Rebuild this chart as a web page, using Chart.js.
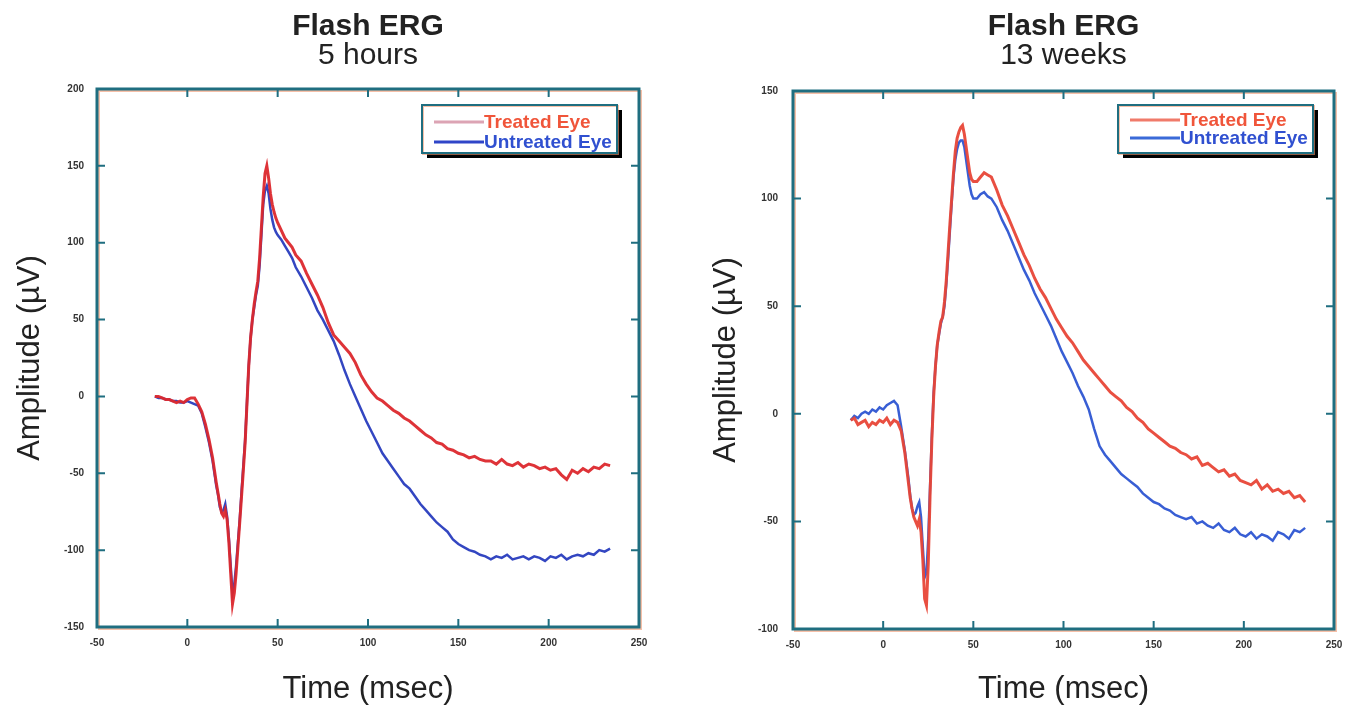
<!DOCTYPE html>
<html>
<head>
<meta charset="utf-8">
<script src="https://cdn.jsdelivr.net/npm/chart.js@4.4.1/dist/chart.umd.min.js"></script>
<style>
  html, body { margin: 0; padding: 0; background: #fff; }
  #wrap { position: relative; width: 1355px; height: 711px; overflow: hidden; }
  canvas { position: absolute; top: 0; }
  #erg5h { left: 0; }
  #erg13w { left: 677px; }
</style>
</head>
<body>
<div id="wrap">
  <canvas id="erg5h" width="677" height="711"></canvas>
  <canvas id="erg13w" width="678" height="711"></canvas>
</div>
<script>
// time axis shared by both recordings (msec)
const timeMs = [
  -18, -16, -14, -12, -10, -8, -6, -4, -2, 0, 2, 4, 6, 8, 10, 12, 14,
  15, 16, 17, 18, 19, 20, 21, 22, 23, 24, 25, 26, 27, 28, 29, 30, 31, 32, 33, 34,
  35, 36, 37, 38, 39, 40, 41, 42, 43, 44, 45, 46, 47, 48, 49, 50,
  52, 54, 56, 58,
  60, 63, 66, 69, 72, 75, 78, 81, 84, 87, 90, 93, 96, 99, 102, 105, 108, 111, 114, 117,
  120, 123, 126, 129, 132, 135, 138, 141, 144, 147, 150, 153, 156, 159, 162, 165, 168, 171, 174, 177,
  180, 183, 186, 189, 192, 195, 198, 201, 204, 207, 210, 213, 216, 219, 222, 225, 228, 231, 234
];

// Flash ERG, 5 hours (uV)
const treated5h = [
  0, 0, -1, -2, -2, -3, -4, -3, -4, -2, -1, -1, -5, -10, -18, -28, -40,
  -48, -56, -63, -70, -76, -78, -74, -80, -95, -115, -135, -128, -115, -98, -82, -65, -48, -30, -5, 20,
  38, 50, 60, 68, 75, 90, 110, 130, 145, 150, 142, 132, 125, 120, 116, 113,
  108, 103, 100, 97,
  92, 88, 80, 73, 66, 58, 48, 40, 36, 32, 28, 22, 14, 8, 3, -1, -3, -6, -9, -11,
  -14, -16, -19, -22, -25, -27, -30, -31, -34, -35, -37, -38, -40, -39, -41, -42, -42, -44, -41, -44,
  -45, -43, -46, -44, -45, -47, -46, -48, -47, -51, -54, -48, -50, -47, -49, -46, -47, -44, -45
];
const untreated5h = [
  0, -1, -1, -2, -2, -3, -3, -4, -4, -3, -4, -5, -6, -11, -20, -30, -42,
  -50, -58, -64, -72, -75, -74, -70, -78, -92, -110, -128, -122, -110, -95, -80, -62, -45, -28, -4, 20,
  38, 50, 58, 66, 72, 85, 105, 125, 134, 137, 132, 122, 115, 110, 107, 105,
  102, 98, 94, 90,
  84, 78, 71, 64, 56, 50, 43, 36, 27, 17, 8, 0, -8, -16, -23, -30, -37, -42, -47, -52,
  -57, -60, -65, -70, -74, -78, -82, -85, -88, -93, -96, -98, -100, -101, -103, -104, -106, -104, -105, -103,
  -106, -105, -104, -106, -104, -105, -107, -104, -105, -103, -106, -104, -103, -104, -102, -103, -100, -101, -99
];

// Flash ERG, 13 weeks (uV)
const treated13w = [
  -3, -2, -5, -4, -3, -6, -4, -5, -3, -4, -2, -5, -3, -4, -8, -18, -32,
  -39, -44, -48, -50, -52, -49, -55, -68, -86, -89, -70, -38, -12, 8, 22, 32, 38, 43, 45, 52,
  62, 75, 88, 100, 112, 122, 128, 131, 133, 134, 130, 124, 118, 112, 109, 108,
  108, 110, 112, 111,
  110, 104, 97, 92, 86, 80, 74, 69, 63, 58, 54, 49, 44, 40, 36, 33, 29, 25, 22, 19,
  16, 13, 10, 8, 6, 3, 1, -2, -4, -7, -9, -11, -13, -15, -16, -18, -19, -21, -20, -24,
  -23, -25, -27, -26, -29, -28, -31, -32, -33, -31, -35, -33, -36, -35, -37, -36, -39, -38, -41
];
const untreated13w = [
  -3, -1, -2, 0, 1, 0, 2, 1, 3, 2, 4, 5, 6, 4, -6, -17, -30,
  -38, -44, -47, -46, -43, -41, -48, -62, -76, -74, -58, -34, -10, 10, 22, 32, 37, 42, 45, 50,
  60, 72, 85, 98, 110, 118, 123, 126, 127, 127, 124, 118, 112, 106, 102, 100,
  100, 102, 103, 101,
  100, 96, 90, 85, 79, 73, 67, 62, 56, 51, 46, 41, 35, 29, 24, 19, 13, 8, 2, -7,
  -15, -19, -22, -25, -28, -30, -32, -34, -37, -39, -41, -42, -44, -45, -47, -48, -49, -48, -51, -50,
  -52, -53, -51, -54, -55, -53, -56, -57, -55, -58, -56, -57, -59, -55, -56, -58, -54, -55, -53
];

const seriesLabels = ['Treated Eye', 'Untreated Eye'];

const pts = vals => timeMs.map((t, i) => ({ x: t, y: vals[i] }));

// teal frame with inward ticks on all four sides
const frameTicks = {
  id: 'frameTicks',
  afterDatasetsDraw(chart) {
    const { ctx, chartArea: a, scales: { x, y } } = chart;
    ctx.save();
    ctx.strokeStyle = 'rgba(240,150,110,0.6)';
    ctx.lineWidth = 2;
    ctx.strokeRect(a.left + 2, a.top + 2, a.width, a.height);
    ctx.strokeStyle = '#1f6e80';
    ctx.lineWidth = 3;
    ctx.strokeRect(a.left, a.top, a.width, a.height);
    ctx.lineWidth = 2;
    ctx.beginPath();
    x.ticks.forEach(t => {
      const px = x.getPixelForValue(t.value);
      ctx.moveTo(px, a.top); ctx.lineTo(px, a.top + 8);
      ctx.moveTo(px, a.bottom); ctx.lineTo(px, a.bottom - 8);
    });
    y.ticks.forEach(t => {
      const py = y.getPixelForValue(t.value);
      ctx.moveTo(a.left, py); ctx.lineTo(a.left + 8, py);
      ctx.moveTo(a.right, py); ctx.lineTo(a.right - 8, py);
    });
    ctx.stroke();
    ctx.restore();
  }
};

// boxed legend with black drop shadow, top right inside the plot
const boxLegend = {
  id: 'boxLegend',
  afterDraw(chart, args, opts) {
    const { ctx, chartArea: a } = chart;
    const w = 195, h = 48;
    const left = a.right - opts.right - w, top = a.top + opts.top;
    ctx.save();
    ctx.fillStyle = '#000';
    ctx.fillRect(left + 5, top + 5, w, h);
    ctx.fillStyle = '#fff';
    ctx.fillRect(left, top, w, h);
    ctx.strokeStyle = 'rgba(240,150,110,0.6)';
    ctx.lineWidth = 2;
    ctx.strokeRect(left + 1, top + 1, w, h);
    ctx.strokeStyle = '#1f6e80';
    ctx.strokeRect(left, top, w, h);
    ctx.font = 'bold 19px "Liberation Sans", Arial, sans-serif';
    ctx.textBaseline = 'middle';
    chart.data.datasets.forEach((ds, i) => {
      const ry = top + opts.rows[i];
      ctx.strokeStyle = opts.sample[i];
      ctx.lineWidth = 3;
      ctx.beginPath();
      ctx.moveTo(left + 12, ry); ctx.lineTo(left + 62, ry);
      ctx.stroke();
      ctx.fillStyle = opts.text[i];
      ctx.fillText(ds.label, left + 62, ry + 1);
    });
    ctx.restore();
  }
};

function ergChart(id, sub, treated, untreated, yMin, yMax, geo, colors) {
  return new Chart(document.getElementById(id), {
    type: 'line',
    data: {
      datasets: [
        { label: seriesLabels[0], data: pts(treated), borderColor: colors[0], borderWidth: 3, pointRadius: 0, tension: 0 },
        { label: seriesLabels[1], data: pts(untreated), borderColor: colors[1], borderWidth: 2.5, pointRadius: 0, tension: 0 }
      ]
    },
    options: {
      responsive: false,
      animation: false,
      layout: { padding: { left: 0, right: geo.padR, top: 0, bottom: 0 } },
      plugins: {
        legend: { display: false },
        tooltip: { enabled: false },
        title: {
          display: true, text: 'Flash ERG', fullSize: false, color: '#222',
          font: { family: '"Liberation Sans", Arial, sans-serif', size: 30, weight: 'bold', lineHeight: 1 },
          padding: { top: 12, bottom: 0 }
        },
        subtitle: {
          display: true, text: sub, fullSize: false, color: '#222',
          font: { family: '"Liberation Sans", Arial, sans-serif', size: 30, weight: 'normal', lineHeight: 0.9 },
          padding: { top: 0, bottom: geo.subPad }
        },
        boxLegend: geo.legend
      },
      scales: {
        x: {
          type: 'linear', min: -50, max: 250,
          ticks: { stepSize: 50, padding: 10, color: '#333', font: { family: 'Arial, sans-serif', size: 10, weight: 'bold' } },
          grid: { display: false, drawTicks: false },
          border: { display: false },
          title: {
            display: true, text: 'Time (msec)', color: '#222',
            font: { family: '"Liberation Sans", Arial, sans-serif', size: 31 },
            padding: { top: 0, bottom: 3 }
          },
          afterFit: s => { s.height = geo.xh; }
        },
        y: {
          min: yMin, max: yMax,
          ticks: { stepSize: 50, padding: geo.yTickPad, color: '#333', font: { family: 'Arial, sans-serif', size: 10, weight: 'bold' } },
          grid: { display: false, drawTicks: false },
          border: { display: false },
          title: {
            display: true, text: 'Amplitude (\u00b5V)', color: '#222',
            font: { family: '"Liberation Sans", Arial, sans-serif', size: 31 },
            padding: { top: geo.yTitlePad, bottom: 0 }
          },
          afterFit: s => { s.width = geo.yw; }
        }
      }
    },
    plugins: [frameTicks, boxLegend]
  });
}

ergChart('erg5h', '5 hours', treated5h, untreated5h, -150, 200,
  { padR: 38, yw: 97, xh: 84, subPad: 20, yTickPad: 13, yTitlePad: 12,
    legend: { right: 22, top: 16, rows: [17, 37], sample: ['#dca4b4', '#2f45c8'], text: ['#f0553a', '#3050d0'] } },
  ['rgba(220,40,45,0.95)', 'rgba(40,60,190,0.95)']);

ergChart('erg13w', '13 weeks', treated13w, untreated13w, -100, 150,
  { padR: 21, yw: 116, xh: 82, subPad: 22, yTickPad: 15, yTitlePad: 31,
    legend: { right: 21, top: 14, rows: [15, 33], sample: ['#f07a6a', '#3a6ad8'], text: ['#f0553a', '#3050d0'] } },
  ['rgba(232,70,55,0.95)', 'rgba(45,85,210,0.95)']);
</script>
</body>
</html>
